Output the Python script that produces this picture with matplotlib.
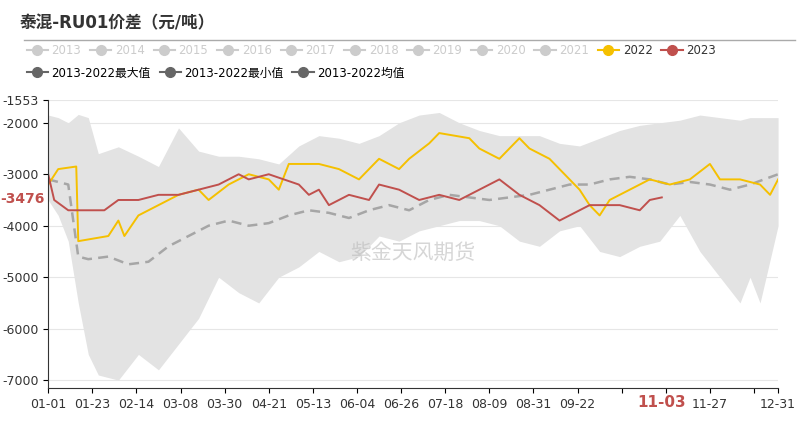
import datetime as dt
import numpy as np
import matplotlib; matplotlib.use("Agg")
import matplotlib.pyplot as plt
from matplotlib import font_manager
from matplotlib.lines import Line2D

cjk = [f.name for f in font_manager.fontManager.ttflist if "CJK" in f.name]
cjk = sorted(set(cjk), key=lambda n: ("SC" not in n, n))
plt.rcParams["font.family"] = ["DejaVu Sans"] + cjk[:1]

d22 = [0, 5, 14, 15, 30, 35, 38, 45, 55, 65, 75, 80, 90, 100, 110, 115, 120, 135, 145, 155, 160, 165, 175, 180,
       190, 195, 210, 215, 225, 235, 240, 250, 255, 260, 265, 270, 275, 280, 290, 300, 310, 320, 330, 335, 345, 355, 360, 364]
v22 = [-3200, -2900, -2850, -4300, -4200, -3900, -4200, -3800, -3600, -3400, -3300, -3500, -3200, -3000, -3100, -3300,
       -2800, -2800, -2900, -3100, -2900, -2700, -2900, -2700, -2400, -2200, -2300, -2500, -2700, -2300, -2500, -2700,
       -2900, -3100, -3300, -3600, -3800, -3500, -3300, -3100, -3200, -3100, -2800, -3100, -3100, -3200, -3400, -3100]

d23 = [0, 3, 10, 28, 35, 45, 55, 65, 75, 85, 95, 100, 110, 125, 130, 135, 140, 150, 160, 165, 175, 185, 195, 205,
       215, 225, 235, 245, 255, 265, 270, 285, 295, 300, 306]
v23 = [-3000, -3500, -3700, -3700, -3500, -3500, -3400, -3400, -3300, -3200, -3000, -3100, -3000, -3200, -3400, -3300,
       -3600, -3400, -3500, -3200, -3300, -3500, -3400, -3500, -3300, -3100, -3400, -3600, -3900, -3700, -3600, -3600,
       -3700, -3500, -3450]

dmean = [0, 10, 15, 20, 30, 40, 50, 60, 70, 80, 90, 100, 110, 120, 130, 140, 150, 160, 170, 180, 190, 200, 210, 220,
         230, 240, 250, 260, 270, 280, 290, 300, 310, 320, 330, 340, 350, 364]
vmean = [-3100, -3200, -4600, -4650, -4600, -4750, -4700, -4400, -4200, -4000, -3900, -4000, -3950, -3800, -3700, -3750,
         -3850, -3700, -3600, -3700, -3500, -3400, -3450, -3500, -3450, -3400, -3300, -3200, -3200, -3100, -3050, -3100,
         -3200, -3150, -3200, -3300, -3200, -3000]

dmax = [0, 5, 10, 12, 20, 25, 40, 50, 60, 65, 70, 80, 90, 100, 110, 120, 130, 140, 150, 160, 170, 180, 190, 200, 210,
        220, 230, 240, 250, 260, 270, 280, 290, 300, 310, 320, 330, 340, 350, 364]
vmax = [-1850, -1900, -2000, -1800, -1900, -2600, -2400, -2900, -2800, -2100, -2600, -2500, -2800, -2500, -2900, -2700,
        -2200, -2300, -2300, -2500, -2000, -2000, -1700, -1900, -2100, -2200, -2300, -2200, -2300, -2500, -2400, -2200,
        -2100, -2000, -2000, -1900, -1800, -2000, -1900, -1900]

dmin = [0, 5, 10, 15, 20, 25, 35, 45, 55, 65, 75, 85, 95, 105, 115, 125, 135, 145, 155, 165, 175, 185, 195, 205, 215,
        225, 235, 245, 255, 265, 275, 285, 295, 305, 315, 325, 335, 345, 350, 355, 364]
vmin = [-3500, -3800, -4300, -5500, -6500, -6900, -7000, -6500, -6800, -6300, -5800, -5000, -5300, -5500, -5000, -4800,
        -4500, -4700, -4600, -4200, -4300, -4100, -4000, -3900, -3900, -4000, -4300, -4400, -4100, -4000, -4500, -4600,
        -4400, -4300, -3800, -4500, -5000, -5500, -5000, -5500, -4000]

yticks = [-1553, -2000, -3000, -4000, -5000, -6000, -7000]
years_grey = ["2013", "2014", "2015", "2016", "2017", "2018", "2019", "2020", "2021"]

fig = plt.figure(figsize=(8.03, 4.30), dpi=100)
ax = fig.add_axes([0.06, 0.098, 0.909, 0.67])

ax.fill_between(dmin, vmin, np.interp(dmin, dmax, vmax), color="#e3e3e3", lw=0)
ax.plot(dmean, vmean, color="#a6a6a6", ls=(0, (4, 2.5)), lw=1.8)
ax.plot(d22, v22, color="#f5c000", lw=1.4)
ax.plot(d23, v23, color="#c0504d", lw=1.4)

ax.text(0.5, 0.47, "紫金天风期货", transform=ax.transAxes, fontsize=15, color="#bbbbbb", alpha=0.6,
        ha="center", va="center")

ax.set_xlim(0, 364)
ax.set_ylim(-7150, -1553)
ax.set_yticks(yticks)
ax.set_yticklabels([str(t) for t in yticks], fontsize=9, color="#333333")
ax.yaxis.grid(True, color="#e6e6e6", lw=0.8)
ax.set_axisbelow(True)

base = dt.date(2023, 1, 1)
ticks = list(range(0, 365, 22)) + [364]
show = list(range(0, 286, 22)) + [330, 364]
ax.set_xticks(ticks)
ax.set_xticklabels([(base + dt.timedelta(d)).strftime("%m-%d") if d in show else "" for d in ticks],
                   fontsize=9, color="#333333")
ax.annotate("11-03", (306, -7150), xytext=(0, -5), textcoords="offset points", color="#c0504d",
            fontsize=11, fontweight="bold", ha="center", va="top")
ax.text(-0.005, -3476, "-3476", transform=ax.get_yaxis_transform(), color="#c0504d", fontsize=10,
        fontweight="bold", ha="right", va="center")
for s in ["top", "right"]:
    ax.spines[s].set_visible(False)
ax.spines["left"].set_color("#333333")
ax.spines["bottom"].set_color("#333333")

fig.text(0.025, 0.945, "泰混-RU01价差（元/吨）", fontsize=12, fontweight="bold", color="#333333", va="center")
fig.add_artist(Line2D([0.03, 0.99], [0.907, 0.907], color="#aaaaaa", lw=1))

def handle(c):
    return Line2D([], [], color=c, marker="o", ms=7, lw=1.5)

labels1 = years_grey + ["2022", "2023"]
h1 = [handle("#cccccc") for _ in years_grey] + [handle("#f5c000"), handle("#c0504d")]
leg1 = fig.legend(h1, labels1, loc="center left", bbox_to_anchor=(0.02, 0.882), ncol=11, frameon=False,
                  fontsize=8.5, handlelength=1.8, handletextpad=0.3, columnspacing=0.75)
for t, lab in zip(leg1.get_texts(), labels1):
    t.set_color("#cccccc" if lab in years_grey else "#333333")
labels2 = ["2013-2022最大值", "2013-2022最小值", "2013-2022均值"]
fig.legend([handle("#666666")] * 3, labels2, loc="center left", bbox_to_anchor=(0.02, 0.83), ncol=3,
           frameon=False, fontsize=8.5, handlelength=1.8, handletextpad=0.3, columnspacing=0.75)

fig.savefig("out.png", dpi=100)
